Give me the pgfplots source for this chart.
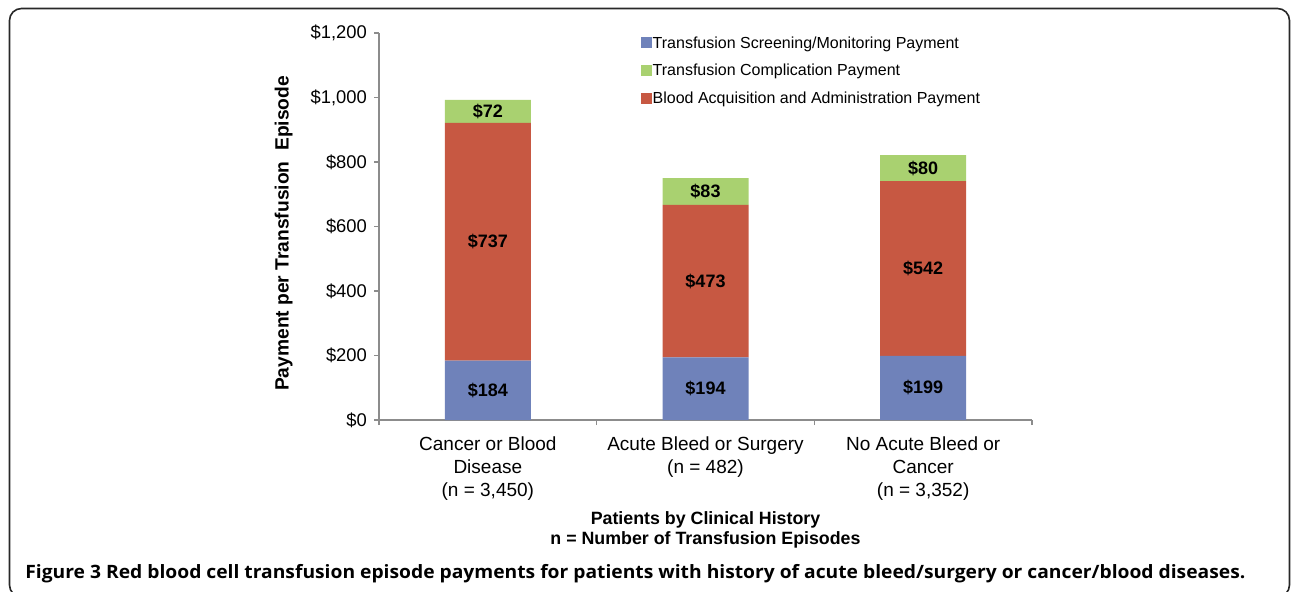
\documentclass[border=0pt]{standalone}
\usepackage{pgfplots}
\pgfplotsset{compat=1.18}
\usepackage{fontspec}
\setmainfont{Liberation Sans}
\newfontfamily\capfont{Open Sans}
\usepackage{graphicx}

\definecolor{cblue}{RGB}{111,130,186}
\definecolor{cred}{RGB}{199,88,66}
\definecolor{cgreen}{RGB}{169,209,112}
\definecolor{axgray}{RGB}{140,140,140}
\definecolor{framegray}{RGB}{40,40,40}

\pgfplotsset{
  chartgeom/.style={
    at={(189.5pt,85.5pt)}, anchor=south west,
    scale only axis, width=326.5pt, height=193.5pt,
    xmin=-0.5, xmax=2.5, ymin=0, ymax=1200,
  }
}

\begin{document}
\begin{tikzpicture}
\useasboundingbox (0,0) rectangle (646pt,295.5pt);
\draw[line width=0.8pt, draw=framegray, rounded corners=6pt] (4.75pt,-3pt) rectangle (644.75pt,291.25pt);
\begin{axis}[
  chartgeom,
  ybar stacked, bar width=43pt,
  clip=false,
  axis x line*=bottom, axis y line*=left,
  axis line style={draw=axgray, line width=0.6pt},
  tick style={draw=axgray, line width=0.6pt},
  tick align=outside, major tick length=2.5pt,
  ytick={0,200,...,1200},
  yticklabels={\$0,\$200,\$400,\$600,\$800,{\$1,000},{\$1,200}},
  yticklabel style={font=\fontsize{9.2}{11}\selectfont},
  xtick={-0.5,0.5,1.5,2.5},
  x tick label as interval,
  xticklabels={{Cancer or Blood\\Disease\\(n = 3,450)},{Acute Bleed or Surgery\\(n = 482)},{No Acute Bleed or\\Cancer\\(n = 3,352)}},
  xticklabel style={align=center, font=\fontsize{9.5}{11.5}\selectfont, yshift=-2.5pt},
  ylabel={Payment per Transfusion\ \ Episode},
  ylabel style={at={(axis description cs:-0.146,0.482)}, anchor=center, font=\fontsize{9.6}{11}\selectfont\bfseries},
  xlabel={Patients by Clinical History\\n = Number of Transfusion Episodes},
  xlabel style={at={(axis description cs:0.5,-0.284)}, anchor=center, align=center, font=\fontsize{8.9}{10}\selectfont\bfseries},
  legend style={at={(0.4005,0.995)}, anchor=north west, draw=none, fill=none, font=\fontsize{8}{9}\selectfont, row sep=5.3pt, inner sep=0pt, nodes={inner sep=0.5pt, text height=6pt, text depth=1.5pt}},
  legend cell align=left,
]
\addlegendimage{legend image code/.code={\fill[cblue] (0pt,-2pt) rectangle (5pt,3pt);}}
\addlegendentry{Transfusion Screening/Monitoring Payment}
\addlegendimage{legend image code/.code={\fill[cgreen] (0pt,-2pt) rectangle (5pt,3pt);}}
\addlegendentry{Transfusion Complication Payment}
\addlegendimage{legend image code/.code={\fill[cred] (0pt,-2pt) rectangle (5pt,3pt);}}
\addlegendentry{Blood Acquisition and Administration Payment}

\addplot[fill=cblue, draw=none] coordinates {(0,184) (1,194) (2,199)};
\addplot[fill=cred, draw=none] coordinates {(0,737) (1,473) (2,542)};
\addplot[fill=cgreen, draw=none] coordinates {(0,72) (1,83) (2,80)};
\end{axis}
% value labels, centred in each segment
\begin{axis}[
  chartgeom, hide axis, clip=false,
  point meta=explicit symbolic,
  nodes near coords,
  every node near coord/.append style={anchor=center, font=\fontsize{9}{10}\selectfont\bfseries, text=black, inner sep=0pt},
]
\addplot[only marks, mark=none] coordinates {(0,92) [\$184] (1,97) [\$194] (2,99.5) [\$199]};
\addplot[only marks, mark=none] coordinates {(0,552.5) [\$737] (1,430.5) [\$473] (2,470) [\$542]};
\addplot[only marks, mark=none] coordinates {(0,957) [\$72] (1,708.5) [\$83] (2,781) [\$80]};
\end{axis}
\node[anchor=base west, inner sep=0pt, font=\capfont\bfseries\fontsize{9.2}{10}\selectfont] at (12.5pt,6.3pt) {\resizebox{610pt}{\height}{Figure 3 Red blood cell transfusion episode payments for patients with history of acute bleed/surgery or cancer/blood diseases.}};
\end{tikzpicture}
\end{document}
